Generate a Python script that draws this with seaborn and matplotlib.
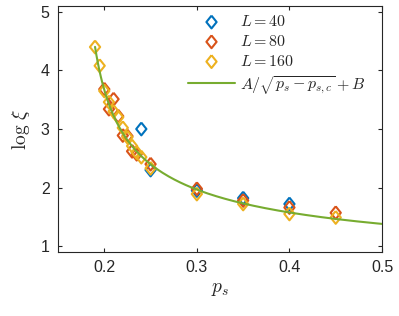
import seaborn as sns
import matplotlib.pyplot as plt
import pandas as pd
import numpy as np

sns.set_style("ticks")
plt.rcParams["font.family"] = ["Liberation Sans", "DejaVu Sans"]
plt.rcParams["mathtext.fontset"] = "cm"

# data
p40 = [0.24, 0.25, 0.30, 0.35, 0.40]
xi40 = [3.00, 2.30, 1.95, 1.82, 1.72]

p80 = [0.20, 0.205, 0.21, 0.215, 0.22, 0.225, 0.23, 0.235, 0.25, 0.30, 0.35, 0.40, 0.45]
xi80 = [3.68, 3.34, 3.51, 3.22, 2.89, 2.88, 2.62, 2.57, 2.40, 1.98, 1.78, 1.66, 1.57]

p160 = [0.19, 0.195, 0.20, 0.205, 0.21, 0.215, 0.22, 0.225, 0.23, 0.235, 0.24, 0.25, 0.30, 0.35, 0.40, 0.45]
xi160 = [4.40, 4.08, 3.65, 3.46, 3.30, 3.20, 3.02, 2.86, 2.71, 2.60, 2.52, 2.33, 1.89, 1.72, 1.55, 1.49]

# fit A/sqrt(p - pc) + B
A, B, pc = 0.567, 0.393, 0.17
p_fit = np.linspace(0.19, 0.5, 200)
fit = pd.DataFrame({"p": p_fit, "xi": A / np.sqrt(p_fit - pc) + B})

series = [
    (p40, xi40, "#0072BD", r"$L=40$"),
    (p80, xi80, "#D95319", r"$L=80$"),
    (p160, xi160, "#EDB120", r"$L=160$"),
]

# slightly tall diamond like MATLAB's
diamond = [(0, 1), (0.8, 0), (0, -1), (-0.8, 0), (0, 1)]

fig = plt.figure(figsize=(3.99, 3.16), dpi=100)
ax = fig.add_axes([0.1454, 0.2025, 0.8120, 0.7785])

for px, py, c, lab in series:
    df = pd.DataFrame({"p": px, "xi": py})
    sns.scatterplot(data=df, x="p", y="xi", ax=ax, marker=diamond, s=85,
                    fc="none", ec=c, linewidth=1.5, label=lab, zorder=3)

sns.lineplot(data=fit, x="p", y="xi", ax=ax, color="#77AC30", linewidth=1.5,
             label=r"$A/\sqrt{p_s-p_{s,c}}+B$", zorder=4)

ax.set_xlim(0.15, 0.5)
ax.set_ylim(0.9, 5.1)
ax.set_xticks([0.2, 0.3, 0.4, 0.5])
ax.set_xticklabels(["0.2", "0.3", "0.4", "0.5"])
ax.set_yticks([1, 2, 3, 4, 5])
ax.tick_params(direction="in", length=3, width=0.8, colors="#262626",
               labelsize=11.5, top=True, right=True, pad=6)
for s in ax.spines.values():
    s.set_visible(True)
    s.set_color("#262626")
    s.set_linewidth(0.8)

ax.set_xlabel(r"$p_s$", fontsize=14, labelpad=4)
ax.set_ylabel(r"$\log\,\xi$", fontsize=14, labelpad=6)

ax.legend(loc="upper right", bbox_to_anchor=(0.995, 1.025), frameon=False,
          fontsize=11.5, handlelength=3.0, labelspacing=0.3, handletextpad=0.3)

fig.savefig("out.png", dpi=100)
